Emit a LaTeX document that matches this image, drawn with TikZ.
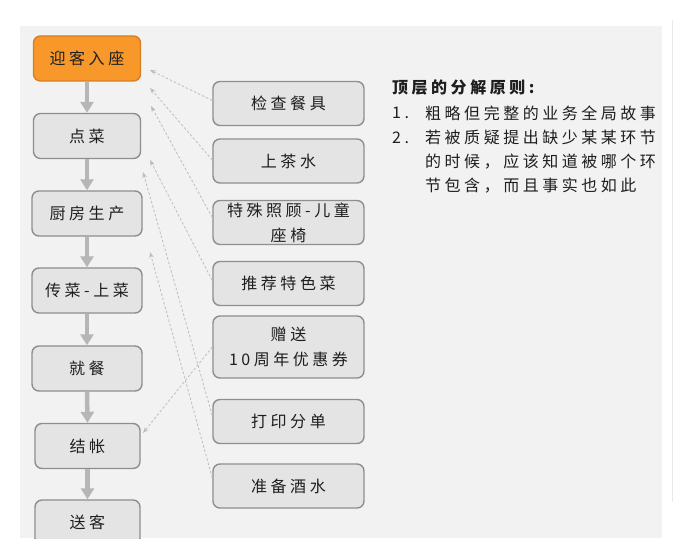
\documentclass[tikz,border=0pt]{standalone}
\usepackage{fontspec}
\newfontfamily\cjkfont[LetterSpace=22]{Noto Sans CJK SC}
\usetikzlibrary{arrows.meta}

\definecolor{panelbg}{HTML}{F2F2F2}
\definecolor{pageedge}{HTML}{E9E9E9}
\definecolor{boxfill}{HTML}{E4E4E4}
\definecolor{boxline}{HTML}{8E8E8E}
\definecolor{startfill}{HTML}{F8982A}
\definecolor{startline}{HTML}{D57E22}
\definecolor{flowline}{HTML}{B6B6B6}
\definecolor{refline}{HTML}{BDBDBD}
\definecolor{inkcol}{HTML}{1E1E1E}

\tikzset{
  cjktext/.style={font=\cjkfont\fontsize{16}{25}\selectfont, text=inkcol},
  stagebox/.style={cjktext, draw=boxline, fill=boxfill, line width=1.4pt,
    rounded corners=7pt, minimum width=107pt, minimum height=45pt,
    inner sep=0pt, align=center},
  startbox/.style={stagebox, draw=startline, fill=startfill},
  taskbox/.style={stagebox, minimum width=151pt, minimum height=44pt},
  flowarrow/.style={draw=flowline, line width=4.5pt,
    -{Triangle[length=11pt,width=13pt]}},
  refarrow/.style={draw=refline, line width=0.8pt, dash pattern=on 2.5pt off 2pt,
    -{Stealth[length=6pt,width=4.5pt]}},
  notetext/.style={cjktext, anchor=west, inner sep=0pt}
}

\begin{document}
\begin{tikzpicture}[x=1pt,y=-1pt]
  \useasboundingbox (0,0) rectangle (693,559);
  \fill[white] (0,0) rectangle (693,559);

  % page panel and its faint outer edge
  \fill[panelbg] (20,26) rectangle (662,538);
  \draw[pageedge, line width=1pt] (672,20) -- (672,502);

  % main service flow (left column)
  \node[startbox] (welcome) at (87,58.5) {迎客入座};
  \node[stagebox] (order)   at (87,136) {点菜};
  \node[stagebox, minimum width=110pt] (kitchen) at (87,213.5) {厨房生产};
  \node[stagebox, minimum width=110pt] (serve)   at (87,290.5) {传菜-上菜};
  \node[stagebox, minimum width=110pt] (dine)    at (87,368.5) {就餐};
  \node[stagebox, minimum width=105pt] (pay)     at (87.5,446) {结帐};
  \begin{scope}
    \clip (20,26) rectangle (662,538);
    \node[stagebox, minimum width=105pt] (farewell) at (87.5,522.5) {送客};
  \end{scope}

  \draw[flowarrow] (welcome.south) -- (order.north);
  \draw[flowarrow] (order.south) -- (kitchen.north);
  \draw[flowarrow] (kitchen.south) -- (serve.north);
  \draw[flowarrow] (serve.south) -- (dine.north);
  \draw[flowarrow] (dine.south) -- (pay.north);
  \draw[flowarrow] (pay.south) -- (farewell.north);

  % detail tasks (right column)
  \node[taskbox] (cutlery) at (288.5,103.5) {检查餐具};
  \node[taskbox] (tea)     at (288.5,161) {上茶水};
  \node[taskbox] (chair)   at (288.5,222.5) {特殊照顾-儿童\\座椅};
  \node[taskbox] (special) at (288.5,283.5) {推荐特色菜};
  \node[taskbox, minimum height=62pt] (coupon) at (288.5,347) {赠送\\10周年优惠券};
  \node[taskbox] (print)   at (288.5,421.5) {打印分单};
  \node[taskbox] (drinks)  at (288.5,486) {准备酒水};

  % where each task belongs in the flow
  \coordinate (inWelcomeA) at (150,70);
  \coordinate (inWelcomeB) at (150,88);
  \coordinate (inWelcomeC) at (151,106);
  \coordinate (inOrderA)   at (150,160);
  \coordinate (inOrderB)   at (143,172);
  \coordinate (inKitchen)  at (150,252);
  \coordinate (inPay)      at (143,433);

  \draw[refarrow] ([yshift=3pt]cutlery.west) -- (inWelcomeA);
  \draw[refarrow] ([yshift=1pt]tea.west) -- (inWelcomeB);
  \draw[refarrow] ([yshift=5pt]chair.west) -- (inWelcomeC);
  \draw[refarrow] ([yshift=3pt]special.west) -- (inOrderA);
  \draw[refarrow] (coupon.west) -- (inPay);
  \draw[refarrow] ([yshift=6pt]print.west) -- (inOrderB);
  \draw[refarrow] ([yshift=8pt]drinks.west) -- (inKitchen);

  % decomposition notes
  \node[notetext, font=\cjkfont\bfseries\fontsize{16}{25}\selectfont] (ntitle) at (392,88) {顶层的分解原则:};
  \node[notetext] (n1)  at (392,113) {1.};
  \node[notetext] (n1a) at (425,113) {粗略但完整的业务全局故事};
  \node[notetext] (n2)  at (392,137.5) {2.};
  \node[notetext] (n2a) at (425,137.5) {若被质疑提出缺少某某环节};
  \node[notetext] (n2b) at (425,162) {的时候，应该知道被哪个环};
  \node[notetext] (n2c) at (425,186) {节包含，而且事实也如此};
\end{tikzpicture}
\end{document}
